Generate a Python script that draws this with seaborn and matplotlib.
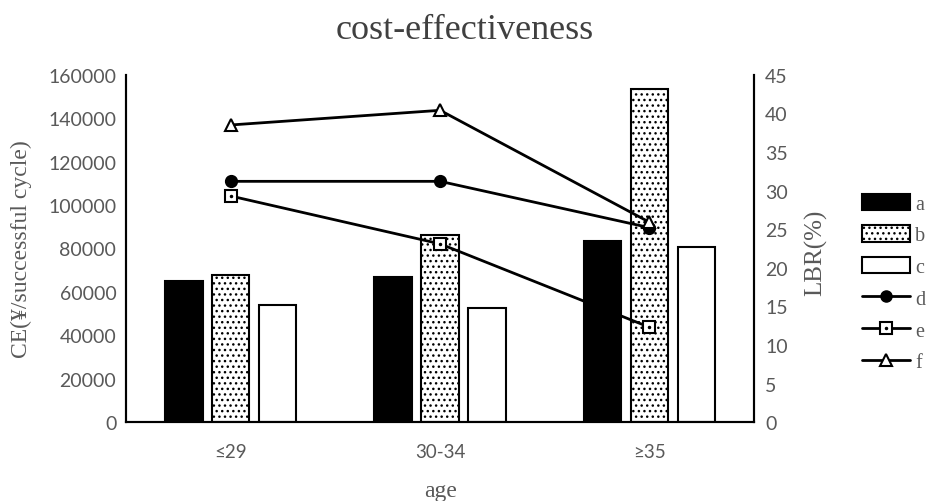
import numpy as np
import pandas as pd
import matplotlib.pyplot as plt
import seaborn as sns
from matplotlib.lines import Line2D
from matplotlib.patches import Patch
from matplotlib.legend_handler import HandlerTuple

# values
ages = ['≤29', '30-34', '≥35']
ce_a = [65000, 67000, 83500]
ce_b = [68000, 86000, 153500]
ce_c = [54000, 52500, 80500]
lbr_d = [31.2, 31.2, 25.2]
lbr_e = [29.3, 23.1, 12.3]
lbr_f = [38.5, 40.4, 25.9]

sns.set_style('white')
plt.rcParams['font.family'] = ['Liberation Serif', 'DejaVu Serif']
plt.rcParams['hatch.color'] = 'black'
plt.rcParams['hatch.linewidth'] = 1.0

grey = '#595959'
tickfamily = ['Lato', 'DejaVu Sans']

bars = pd.DataFrame({'age': ages * 3,
                     'CE': ce_a + ce_b + ce_c,
                     'group': ['a'] * 3 + ['b'] * 3 + ['c'] * 3})

fig = plt.figure(figsize=(9.51, 5.02), dpi=100)
ax = fig.add_axes([0.1325, 0.157, 0.6605, 0.692])
sns.barplot(data=bars, x='age', y='CE', hue='group',
            palette=['black', 'white', 'white'], width=0.672, gap=0.2,
            edgecolor='black', linewidth=1.5, legend=False, ax=ax)
for p in ax.patches[3:6]:
    p.set_hatch('...')

ax2 = ax.twinx()
xs = np.arange(len(ages))
line_styles = [(lbr_d, 'o', 'black'), (lbr_e, 's', 'white'), (lbr_f, '^', 'white')]
for vals, m, fc in line_styles:
    sns.lineplot(x=xs, y=vals, marker=m, markerfacecolor=fc, markeredgecolor='black',
                 markeredgewidth=1.5, markersize=8, color='black', linewidth=2, ax=ax2)
# little dot inside the square markers
ax2.plot(xs, lbr_e, linestyle='none', marker='.', color='black', markersize=3)

ax.set_xlim(-0.5, 2.5)
ax.set_ylim(0, 160000)
ax.set_yticks(np.arange(0, 160001, 20000))
ax2.set_ylim(0, 45)
ax2.set_yticks(np.arange(0, 46, 5))

for a in (ax, ax2):
    a.spines['top'].set_visible(False)
    for s in ('left', 'right', 'bottom'):
        a.spines[s].set_color('black')
        a.spines[s].set_linewidth(1.5)
    a.tick_params(length=0, colors=grey, labelsize=14)
    for lab in a.get_yticklabels() + a.get_xticklabels():
        lab.set_fontfamily(tickfamily)
ax.tick_params(axis='x', labelsize=13.5, pad=15)
ax.tick_params(axis='y', pad=7)
ax2.tick_params(axis='y', pad=8)

ax.set_xlabel('age', fontsize=17, color=grey)
ax.xaxis.set_label_coords(0.5, -0.165)
ax.set_ylabel('CE(¥/successful cycle)', fontsize=17, color=grey)
ax.yaxis.set_label_coords(-0.15, 0.5)
ax2.set_ylabel('LBR(%)', fontsize=18, color=grey)
ax2.yaxis.set_label_coords(1.08, 0.49)

fig.text(0.489, 0.94, 'cost-effectiveness', fontsize=26, color='#404040',
         ha='center', va='center')

handles = [
    Patch(facecolor='black', edgecolor='black', linewidth=1.5),
    Patch(facecolor='white', edgecolor='black', linewidth=1.5, hatch='...'),
    Patch(facecolor='white', edgecolor='black', linewidth=1.5),
    Line2D([], [], color='black', linewidth=2, marker='o', markersize=8,
           markerfacecolor='black', markeredgecolor='black'),
    (Line2D([], [], color='black', linewidth=2, marker='s', markersize=8,
            markerfacecolor='white', markeredgecolor='black', markeredgewidth=1.5),
     Line2D([], [], linestyle='none', marker='.', color='black', markersize=3)),
    Line2D([], [], color='black', linewidth=2, marker='^', markersize=8,
           markerfacecolor='white', markeredgecolor='black', markeredgewidth=1.5),
]
leg = fig.legend(handles, ['a', 'b', 'c', 'd', 'e', 'f'], loc='upper left',
                 bbox_to_anchor=(0.906, 0.612), frameon=False, fontsize=14.5,
                 handlelength=2.4, handleheight=0.85, labelspacing=0.58,
                 handletextpad=0.25, borderpad=0, borderaxespad=0,
                 handler_map={tuple: HandlerTuple(ndivide=1)})
for t in leg.get_texts():
    t.set_color(grey)

fig.savefig('out.png', dpi=100)
